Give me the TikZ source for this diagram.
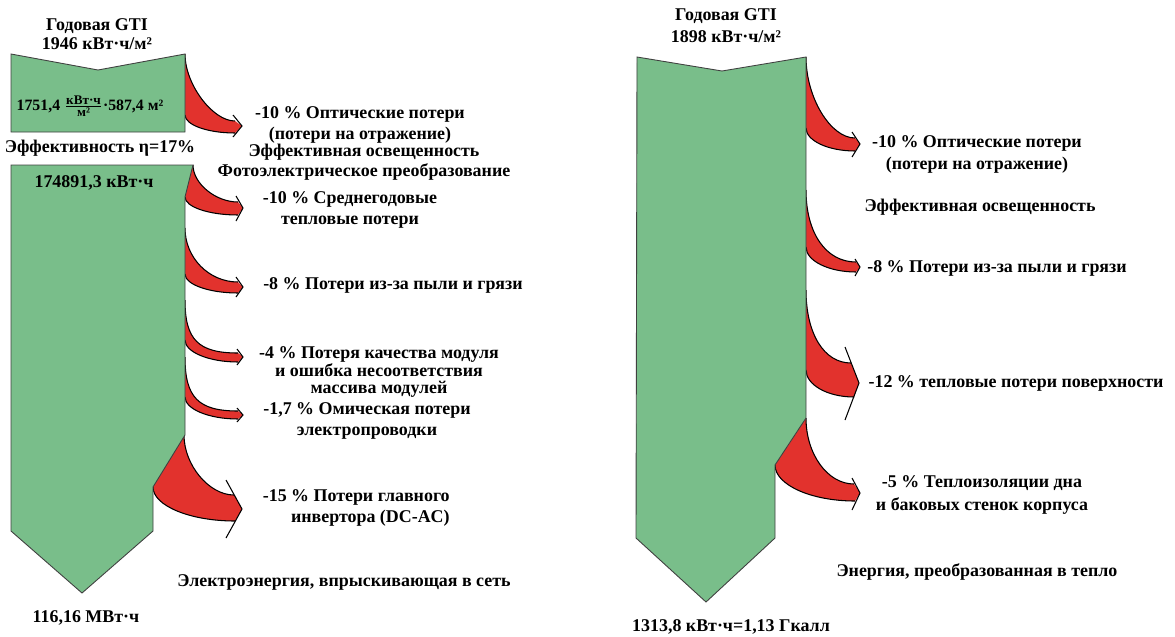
\documentclass[tikz,border=0pt]{standalone}
\usepackage{fontspec}
\setmainfont{Liberation Serif}
\definecolor{bodygreen}{RGB}{121,190,138}
\definecolor{lossred}{RGB}{226,50,45}

\begin{document}
\begin{tikzpicture}[
    x=0.02cm, y=-0.02cm,
    body/.style={fill=bodygreen, draw=black!75, line width=0.5pt},
    lossfill/.style={fill=lossred},
    lossline/.style={draw=black, line width=0.6pt},
    lbl/.style={font=\bfseries\fontsize{10.2}{11.5}\selectfont, align=center, inner sep=0pt}
]
    \useasboundingbox (0,0) rectangle (1175,636);

    % loss flows: outer start / inner start / band top end / tip / band bottom end / barbs / how close the outer edge hugs the body
    \foreach \ox/\oy/\ix/\iy/\ax/\ay/\tx/\ty/\dx/\dy/\bx/\by/\cx/\cy/\hug in {
        185/54/185/115/235/121/242/126/235/133/233/115/233/137/0.45,
        193/165/185/197/238/202/243/208/238/215/236/196/236/221/0.5,
        185/228/185/274/238/282/243/287/238/293/236/277/236/297/0.55,
        185/300/185/340/238/353/243/357/238/362/237/349/237/365/0.75,
        185/357/185/397/238/411/243/415/238/419/237/408/237/422/0.75,
        184/435/153/487/234/495/242/509/235/521/226/480/226/538/0.5,
        806/57/806/128/855/138/860/144/855/151/852/132/852/157/0.5,
        806/190/806/247/856/262/860/267/856/272/855/259/855/276/0.6,
        806/290/806/370/851/363/859/383/854/397/845/347/845/420/0.6,
        806/418/775/465/854/484/860/493/855/501/852/478/852/510/0.55}
    {
        \fill[lossfill] (\ox,\oy) .. controls ({\ox},{\oy+\hug*(\ay-\oy)}) and ({\ox+(1-\hug)*(\ax-\ox)},{\ay}) .. (\ax,\ay)
            -- (\tx,\ty) -- (\dx,\dy)
            .. controls ({\ix+0.45*(\dx-\ix)},{\dy}) and ({\ix},{\iy+0.55*(\dy-\iy)}) .. (\ix,\iy) -- cycle;
        \draw[lossline] (\ox,\oy) .. controls ({\ox},{\oy+\hug*(\ay-\oy)}) and ({\ox+(1-\hug)*(\ax-\ox)},{\ay}) .. (\ax,\ay);
        \draw[lossline] (\dx,\dy) .. controls ({\ix+0.45*(\dx-\ix)},{\dy}) and ({\ix},{\iy+0.55*(\dy-\iy)}) .. (\ix,\iy);
        \draw[lossline] (\bx,\by) -- (\tx,\ty) -- (\cx,\cy);
    }

    % PV plant
    \draw[body] (11,54) -- (98,70) -- (185,54) -- (185,132) -- (11,132) -- cycle;
    \draw[body] (11,165) -- (193,165) -- (185,197) -- (185,435) -- (153,487) -- (153,531) -- (82,593) -- (11,531) -- cycle;

    % solar collector
    \draw[body] (637,57) -- (722,71) -- (806,57) -- (806,418) -- (775,465) -- (775,538) -- (706,602) -- (636,538) -- cycle;

    \node[lbl, font=\bfseries\fontsize{10.2}{10.5}\selectfont] (gtiL) at (97,34) {Годовая GTI\\1946 кВт·ч/м²};
    \node[lbl, font=\bfseries\fontsize{9}{10}\selectfont] (areaL) at (90,106)
        {1751,4 $\frac{\mbox{\bfseries\fontsize{7.5}{8}\selectfont кВт·ч}}{\mbox{\bfseries\fontsize{7.5}{8}\selectfont м²}}$·587,4 м²};
    \node[lbl] (etaL) at (100,148) {Эффективность η=17\%};
    \node[lbl] (yieldL) at (94,183) {174891,3 кВт·ч};
    \node[lbl] (optL) at (360,125) {-10 \% Оптические потери\\(потери на отражение)};
    \node[lbl] (pvL) at (364,162) {Эффективная освещенность\\Фотоэлектрическое преобразование};
    \node[lbl] (tempL) at (350,210) {-10 \% Среднегодовые\\тепловые потери};
    \node[lbl] (dustL) at (393,285) {-8 \% Потери из-за пыли и грязи};
    \node[lbl, font=\bfseries\fontsize{10.2}{9.5}\selectfont] (mismL) at (379,372) {-4 \% Потеря качества модуля\\и ошибка несоответствия\\массива модулей};
    \node[lbl] (ohmL) at (367,421) {-1,7 \% Омическая потери\\электропроводки};
    \node[lbl, align=right, anchor=east] (invL) at (450,508) {-15 \% Потери главного\\инвертора (DC-AC)};
    \node[lbl] (gridL) at (344,582) {Электроэнергия, впрыскивающая в сеть};
    \node[lbl] (outL) at (86,618) {116,16 МВт·ч};

    \node[lbl, font=\bfseries\fontsize{10.2}{12.5}\selectfont] (gtiR) at (726,26) {Годовая GTI\\1898 кВт·ч/м²};
    \node[lbl, font=\bfseries\fontsize{10.2}{12.5}\selectfont] (optR) at (977,154) {-10 \% Оптические потери\\(потери на отражение)};
    \node[lbl] (effR) at (980,207) {Эффективная освещенность};
    \node[lbl] (dustR) at (997,268) {-8 \% Потери из-за пыли и грязи};
    \node[lbl] (surfR) at (1016,383) {-12 \% тепловые потери поверхности};
    \node[lbl, font=\bfseries\fontsize{10.2}{13.5}\selectfont] (insR) at (982,495) {-5 \% Теплоизоляции дна\\и баковых стенок корпуса};
    \node[lbl] (heatR) at (977,572) {Энергия, преобразованная в тепло};
    \node[lbl] (outR) at (731,627) {1313,8 кВт·ч=1,13 Гкалл};
\end{tikzpicture}
\end{document}
